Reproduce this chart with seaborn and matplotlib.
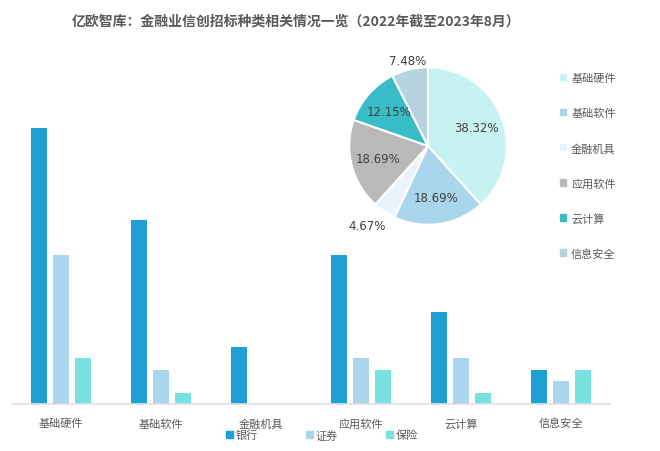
import numpy as np
import pandas as pd
import matplotlib
matplotlib.use("Agg")
import matplotlib.pyplot as plt
import seaborn as sns
from matplotlib.patches import Patch

categories = ['基础硬件', '基础软件', '金融机具', '应用软件', '云计算', '信息安全']
sectors = ['银行', '证券', '保险']
bank = [24, 16, 5, 13, 8, 3]
securities = [13, 3, 0, 4, 4, 2]
insurance = [4, 1, 0, 3, 1, 3]

pie_labels = categories
pie_values = [41, 20, 5, 20, 13, 8]

bar_colors = ['#1f9fd3', '#a9d6ec', '#78e2e0']
pie_colors = ['#c6f2f2', '#a9d6ec', '#e9f3f9', '#b9b9b9', '#38bcc8', '#b8d3e0']

sns.set_theme(style='white')
plt.rcParams['font.family'] = ['Noto Sans CJK SC', 'DejaVu Sans']

df = pd.DataFrame({
    'cat': categories * 3,
    'sector': [s for s in sectors for _ in categories],
    'value': bank + securities + insurance,
})

fig = plt.figure(figsize=(6.6, 4.52), dpi=100)

# bar chart
ax = fig.add_axes([12 / 660, 47 / 452, 598 / 660, 299 / 452])
sns.barplot(data=df, x='cat', y='value', hue='sector', palette=bar_colors,
            width=0.66, gap=0.23, ax=ax, legend=False, saturation=1, linewidth=0)
ax.set_xlim(-0.49, 5.49)
ax.set_ylim(0, 26)
ax.set_xlabel('')
ax.set_ylabel('')
ax.set_yticks([])
for s in ['top', 'right', 'left']:
    ax.spines[s].set_visible(False)
ax.spines['bottom'].set_color('#e0e0e0')
ax.spines['bottom'].set_linewidth(1.2)
ax.tick_params(axis='x', length=0, pad=10, labelsize=8, labelcolor='#595959')

handles = [Patch(color=c) for c in bar_colors]
fig.legend(handles, sectors, loc='center', bbox_to_anchor=(322 / 660, 1 - 436 / 452),
           ncol=3, frameon=False, fontsize=8, labelcolor='#595959',
           handlelength=0.6, handleheight=0.6, handletextpad=0.2, columnspacing=4.4)

# pie chart
pax = fig.add_axes([(428 - 100) / 660, 1 - (147 + 100) / 452, 200 / 660, 200 / 452])
wedges, _ = pax.pie(pie_values, colors=pie_colors, startangle=90, counterclock=False,
                    wedgeprops=dict(edgecolor='white', linewidth=1.5))
pax.set_xlim(-1.27, 1.27)
pax.set_ylim(-1.27, 1.27)
pax.set_aspect('equal')
pax.axis('off')
total = sum(pie_values)
for w, v in zip(wedges, pie_values):
    ang = np.deg2rad((w.theta1 + w.theta2) / 2)
    pct = v / total * 100
    if pct > 10:
        r = 0.66
    elif w.theta2 - w.theta1 > 20:
        r = 1.12
    else:
        r = 1.27
        ang -= np.deg2rad(4)
    pax.text(r * np.cos(ang), r * np.sin(ang), f'{pct:.2f}%', ha='center', va='center',
             fontsize=8.5, color='#404040', family='DejaVu Sans')

phandles = [Patch(color=c) for c in pie_colors]
fig.legend(phandles, pie_labels, loc='upper left', bbox_to_anchor=(550 / 660, 1 - 64 / 452),
           frameon=False, fontsize=8, labelcolor='#595959',
           handlelength=0.5, handleheight=0.5, handletextpad=0.5, labelspacing=2.2)

fig.text(296 / 660, 1 - 22 / 452, '亿欧智库：金融业信创招标种类相关情况一览（2022年截至2023年8月）',
         ha='center', va='center', fontsize=10, fontweight='bold', color='#595959')

fig.savefig('out.png', dpi=100)
